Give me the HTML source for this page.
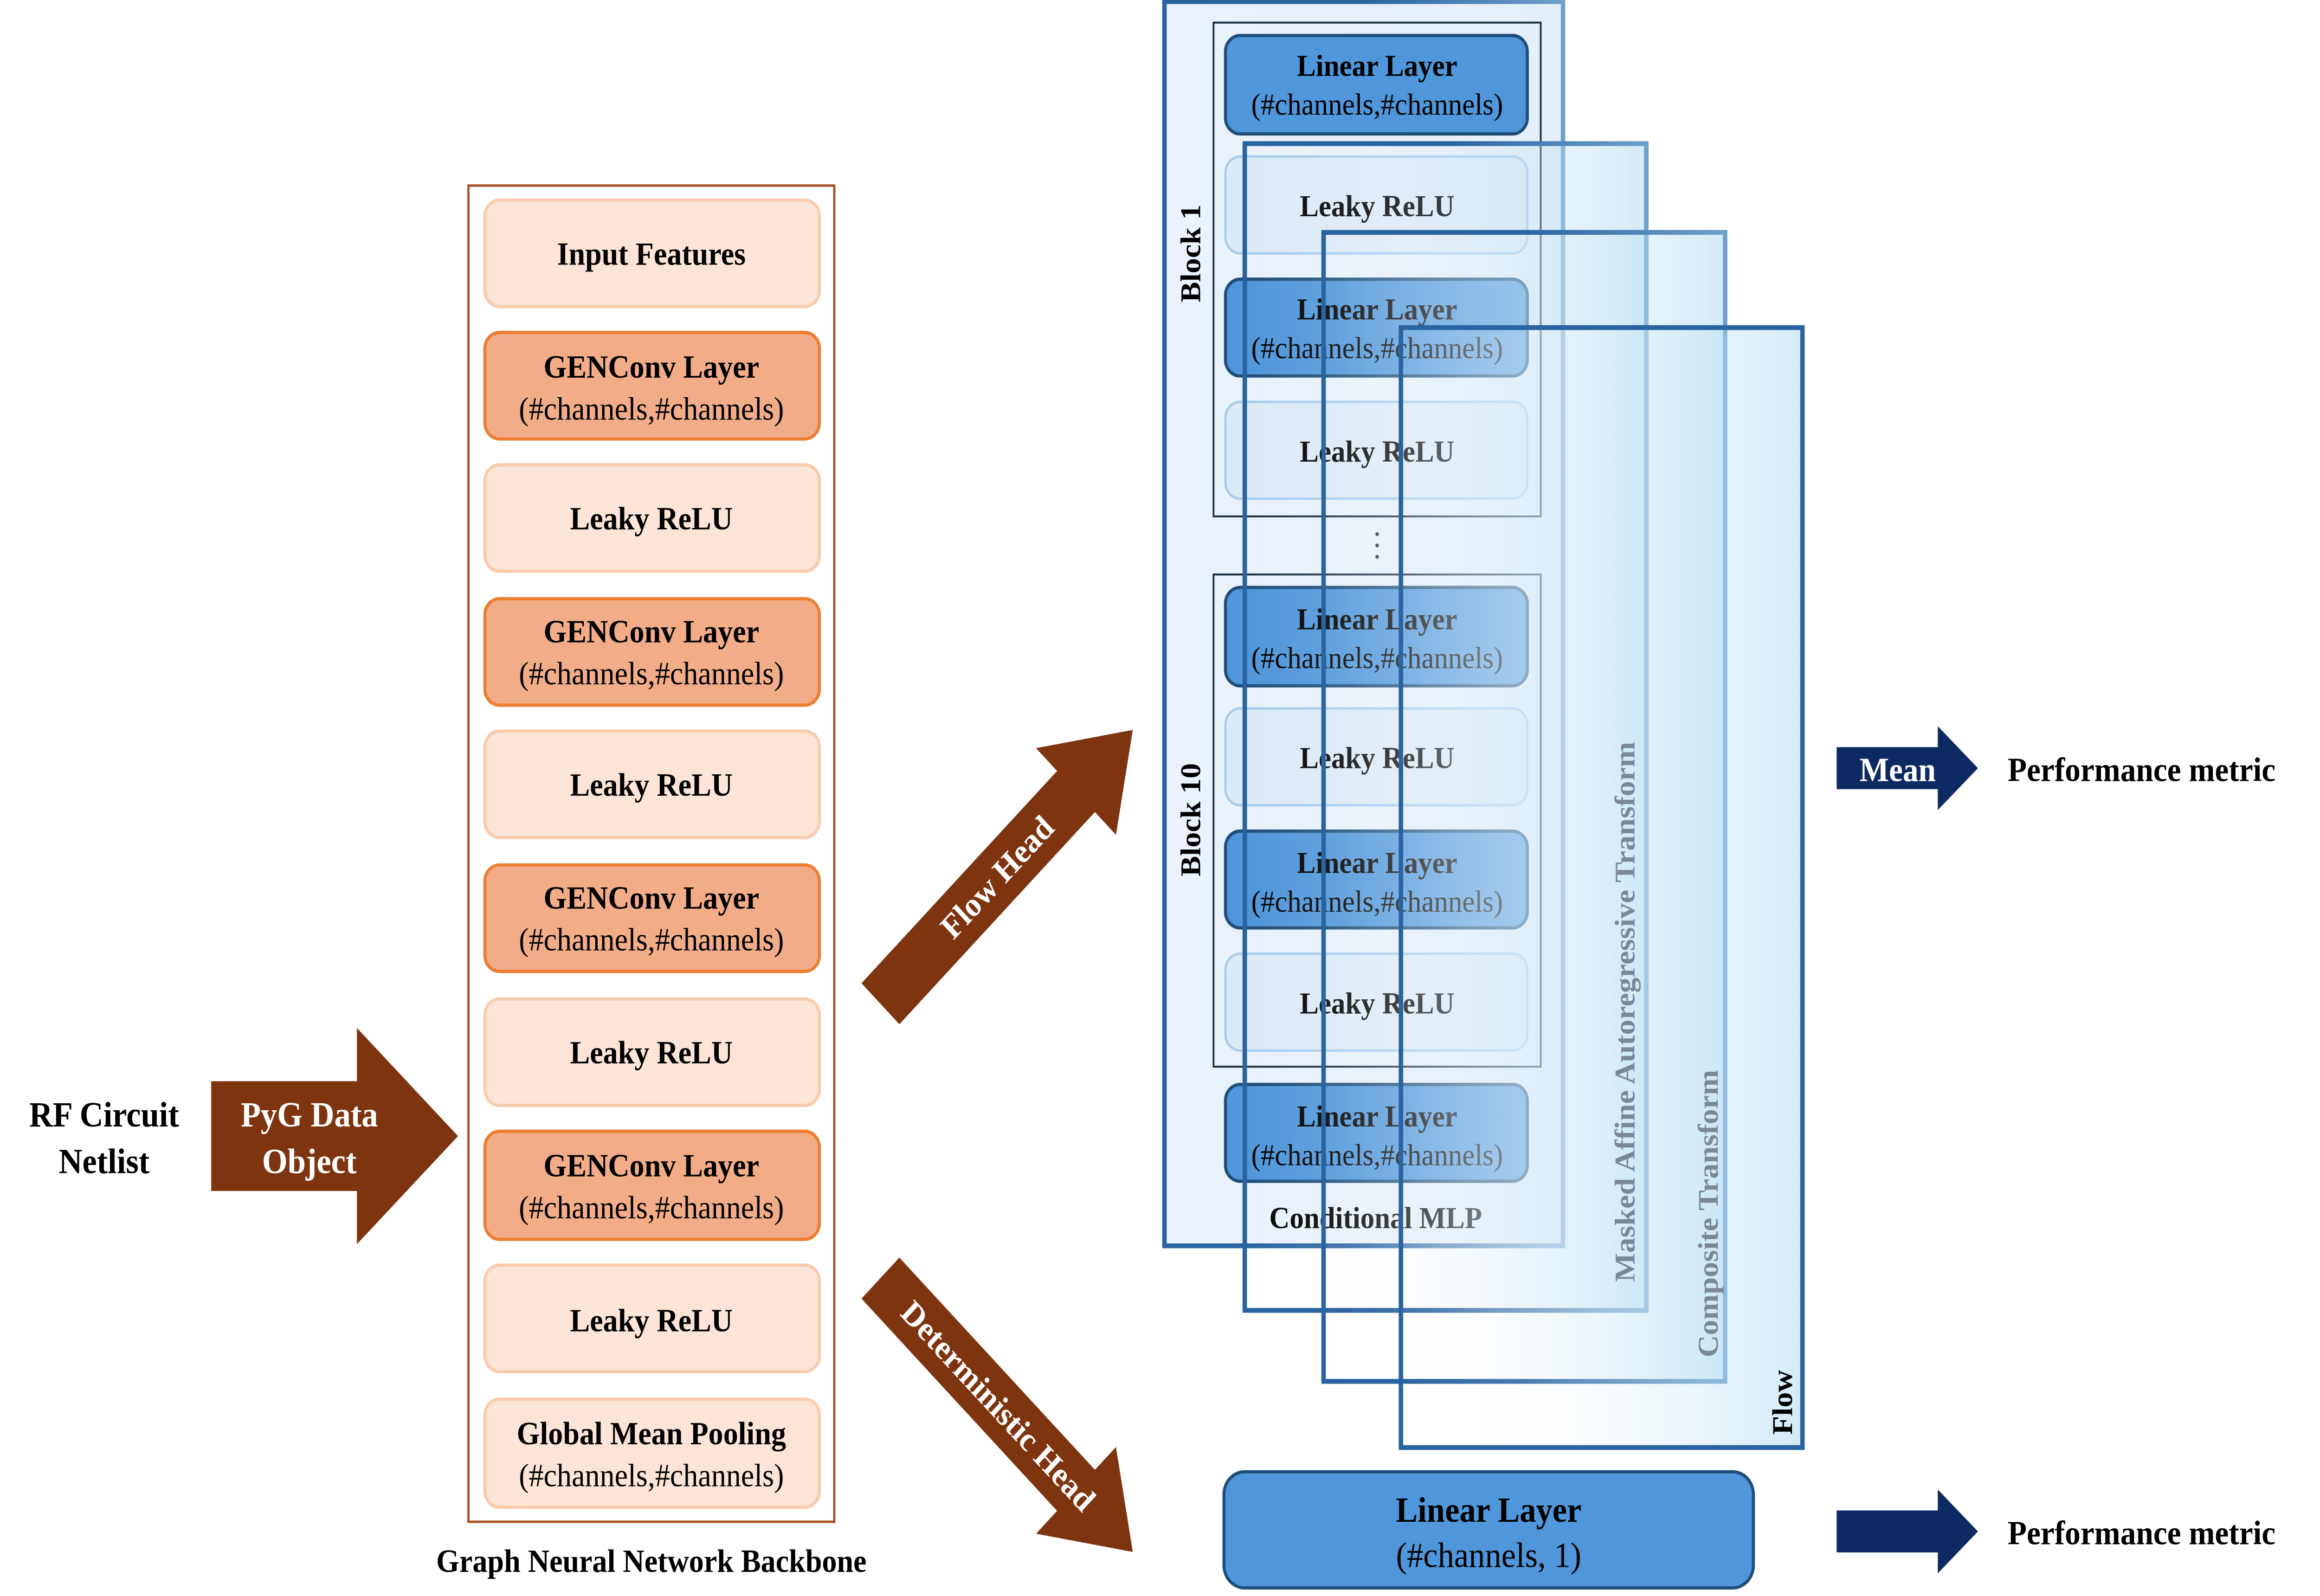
<!DOCTYPE html>
<html><head><meta charset="utf-8"><style>html,body{margin:0;padding:0;background:#fff;width:100%;height:100%;overflow:hidden}svg{display:block;width:100vw;height:100vh}text{font-family:"Liberation Serif",serif;font-weight:bold}</style></head>
<body>
<svg viewBox="0 0 1560 989" preserveAspectRatio="none" xmlns="http://www.w3.org/2000/svg">
<defs>
<linearGradient id="ov" x1="0" y1="0" x2="1" y2="0">
<stop offset="0" stop-color="#ffffff" stop-opacity="0"/>
<stop offset="0.4" stop-color="#eef6fc" stop-opacity="0.2"/>
<stop offset="1" stop-color="#a6d8ef" stop-opacity="0.5"/>
</linearGradient>
<linearGradient id="mlp" x1="0" y1="0" x2="1" y2="0">
<stop offset="0" stop-color="#eaf2fb"/>
<stop offset="1" stop-color="#e4eff9"/>
</linearGradient>
<linearGradient id="st" x1="0" y1="0" x2="1" y2="0">
<stop offset="0" stop-color="#2a64a0"/>
<stop offset="0.5" stop-color="#2a64a0"/>
<stop offset="1" stop-color="#6f9fcb"/>
</linearGradient>
</defs>

<text x="70" y="698" font-size="22" text-anchor="middle">RF Circuit</text>
<text x="70" y="727" font-size="22" text-anchor="middle">Netlist</text>
<polygon points="142,670 240,670 240,637 308,704 240,771 240,738 142,738" fill="#7f3410"/>
<text x="208" y="698" font-size="22" fill="#fff" text-anchor="middle">PyG Data</text>
<text x="208" y="727" font-size="22" fill="#fff" text-anchor="middle">Object</text>

<rect x="315" y="115" width="246" height="828" fill="#fff" stroke="#a84f24" stroke-width="1.5"/>
<g font-size="20" text-anchor="middle">
<rect x="326" y="124" width="225" height="66" rx="10" fill="#fce4d6" stroke="#f8cbad" stroke-width="2"/>
<text x="438" y="164">Input Features</text>
<rect x="326" y="206" width="225" height="66" rx="10" fill="#f2ad88" stroke="#ed7d31" stroke-width="2"/>
<text x="438" y="234">GENConv Layer</text><text x="438" y="260" style="font-weight:normal">(#channels,#channels)</text>
<rect x="326" y="288" width="225" height="66" rx="10" fill="#fce4d6" stroke="#f8cbad" stroke-width="2"/>
<text x="438" y="328">Leaky ReLU</text>
<rect x="326" y="371" width="225" height="66" rx="10" fill="#f2ad88" stroke="#ed7d31" stroke-width="2"/>
<text x="438" y="398">GENConv Layer</text><text x="438" y="424" style="font-weight:normal">(#channels,#channels)</text>
<rect x="326" y="453" width="225" height="66" rx="10" fill="#fce4d6" stroke="#f8cbad" stroke-width="2"/>
<text x="438" y="493">Leaky ReLU</text>
<rect x="326" y="536" width="225" height="66" rx="10" fill="#f2ad88" stroke="#ed7d31" stroke-width="2"/>
<text x="438" y="563">GENConv Layer</text><text x="438" y="589" style="font-weight:normal">(#channels,#channels)</text>
<rect x="326" y="619" width="225" height="66" rx="10" fill="#fce4d6" stroke="#f8cbad" stroke-width="2"/>
<text x="438" y="659">Leaky ReLU</text>
<rect x="326" y="701" width="225" height="67" rx="10" fill="#f2ad88" stroke="#ed7d31" stroke-width="2"/>
<text x="438" y="729">GENConv Layer</text><text x="438" y="755" style="font-weight:normal">(#channels,#channels)</text>
<rect x="326" y="784" width="225" height="66" rx="10" fill="#fce4d6" stroke="#f8cbad" stroke-width="2"/>
<text x="438" y="825">Leaky ReLU</text>
<rect x="326" y="867" width="225" height="67" rx="10" fill="#fce4d6" stroke="#f8cbad" stroke-width="2"/>
<text x="438" y="895">Global Mean Pooling</text><text x="438" y="921" style="font-weight:normal">(#channels,#channels)</text>
</g>
<text x="438" y="974" font-size="20" text-anchor="middle">Graph Neural Network Backbone</text>

<g transform="translate(592,622) rotate(-45)">
<polygon points="0,-18 186,-18 186,-38 240,0 186,38 186,18 0,18" fill="#7f3410"/>
<text x="111" y="7" font-size="21" fill="#fff" text-anchor="middle">Flow Head</text>
</g>
<g transform="translate(592,792) rotate(45)">
<polygon points="0,-18 186,-18 186,-38 240,0 186,38 186,18 0,18" fill="#7f3410"/>
<text x="112" y="7" font-size="21" fill="#fff" text-anchor="middle">Deterministic Head</text>
</g>

<rect x="783" y="1" width="268" height="771" fill="url(#mlp)" stroke="url(#st)" stroke-width="3"/>
<rect x="816" y="14" width="220" height="306" fill="none" stroke="#1d2f3f" stroke-width="1.2"/>
<rect x="816" y="356" width="220" height="305" fill="none" stroke="#1d2f3f" stroke-width="1.2"/>
<g font-size="19" text-anchor="middle">
<rect x="824" y="22" width="203" height="61" rx="10" fill="#4f96da" stroke="#1f4e79" stroke-width="2"/>
<text x="926" y="47">Linear Layer</text><text x="926" y="71" style="font-weight:normal">(#channels,#channels)</text>
<rect x="824" y="97" width="203" height="60" rx="10" fill="#dceaf6" stroke="#a9cdee" stroke-width="1.5"/>
<text x="926" y="134">Leaky ReLU</text>
<rect x="824" y="173" width="203" height="60" rx="10" fill="#4f96da" stroke="#1f4e79" stroke-width="2"/>
<text x="926" y="198">Linear Layer</text><text x="926" y="222" style="font-weight:normal">(#channels,#channels)</text>
<rect x="824" y="249" width="203" height="60" rx="10" fill="#dceaf6" stroke="#a9cdee" stroke-width="1.5"/>
<text x="926" y="286">Leaky ReLU</text>
<rect x="824" y="364" width="203" height="61" rx="10" fill="#4f96da" stroke="#1f4e79" stroke-width="2"/>
<text x="926" y="390">Linear Layer</text><text x="926" y="414" style="font-weight:normal">(#channels,#channels)</text>
<rect x="824" y="439" width="203" height="60" rx="10" fill="#dceaf6" stroke="#a9cdee" stroke-width="1.5"/>
<text x="926" y="476">Leaky ReLU</text>
<rect x="824" y="515" width="203" height="60" rx="10" fill="#4f96da" stroke="#1f4e79" stroke-width="2"/>
<text x="926" y="541">Linear Layer</text><text x="926" y="565" style="font-weight:normal">(#channels,#channels)</text>
<rect x="824" y="591" width="203" height="60" rx="10" fill="#dceaf6" stroke="#a9cdee" stroke-width="1.5"/>
<text x="926" y="628">Leaky ReLU</text>
<rect x="824" y="672" width="203" height="60" rx="10" fill="#4f96da" stroke="#1f4e79" stroke-width="2"/>
<text x="926" y="698">Linear Layer</text><text x="926" y="722" style="font-weight:normal">(#channels,#channels)</text>
<text x="925" y="761">Conditional MLP</text>
</g>
<circle cx="926" cy="331" r="1.2" fill="#333"/><circle cx="926" cy="338" r="1.2" fill="#333"/><circle cx="926" cy="345" r="1.2" fill="#333"/>
<text transform="translate(807,157) rotate(-90)" font-size="19" text-anchor="middle">Block 1</text>
<text transform="translate(807,508) rotate(-90)" font-size="19" text-anchor="middle">Block 10</text>

<rect x="837" y="89" width="270" height="723" fill="url(#ov)" stroke="url(#st)" stroke-width="3"/>
<rect x="890" y="144" width="270" height="712" fill="url(#ov)" stroke="url(#st)" stroke-width="3"/>
<rect x="942" y="203" width="270" height="694" fill="url(#ov)" stroke="#2a64a0" stroke-width="3"/>
<text transform="translate(1099,627) rotate(-90)" font-size="19" fill="#7a8896" text-anchor="middle">Masked Affine Autoregressive Transform</text>
<text transform="translate(1155,752) rotate(-90)" font-size="19" fill="#7a8896" text-anchor="middle">Composite Transform</text>
<text transform="translate(1205,869) rotate(-90)" font-size="19" text-anchor="middle">Flow</text>

<rect x="823" y="912" width="356" height="72" rx="14" fill="#4f96da" stroke="#1f4e79" stroke-width="2"/>
<text x="1001" y="943" font-size="22" text-anchor="middle">Linear Layer</text>
<text x="1001" y="971" font-size="22" text-anchor="middle" style="font-weight:normal">(#channels, 1)</text>

<polygon points="1235,463 1303,463 1303,450 1330,476 1303,502 1303,489 1235,489" fill="#0d2a63"/>
<text x="1276" y="484" font-size="21" fill="#fff" text-anchor="middle">Mean</text>
<text x="1350" y="484" font-size="21">Performance metric</text>
<polygon points="1235,936 1303,936 1303,923 1330,949 1303,975 1303,962 1235,962" fill="#0d2a63"/>
<text x="1350" y="957" font-size="21">Performance metric</text>
</svg>
</body></html>
